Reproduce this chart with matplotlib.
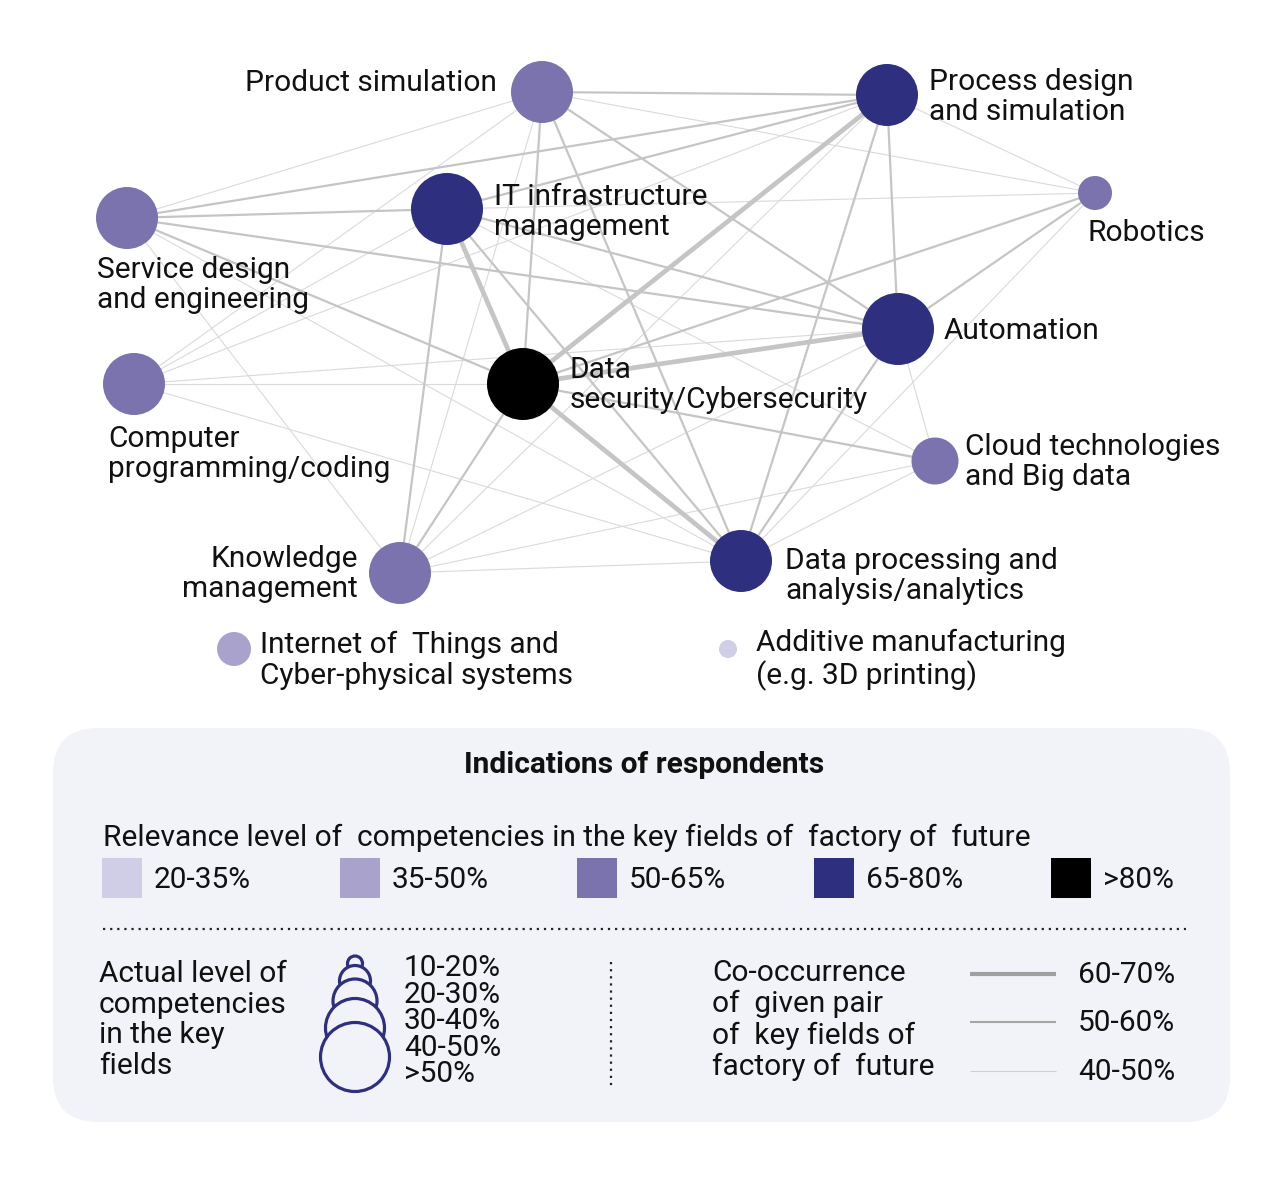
import matplotlib
matplotlib.use("Agg")
import matplotlib.pyplot as plt
from matplotlib.patches import Circle, FancyBboxPatch, Rectangle

plt.rcParams['font.family'] = ['Roboto', 'DejaVu Sans']

# ---------------- data ----------------
node_ids = ["PS", "PD", "RB", "SD", "IT", "AU", "CP", "DS", "CL", "KM", "DP", "IOT", "AM"]
node_labels = {
    "PS": "Product simulation",
    "PD": "Process design\nand simulation",
    "RB": "Robotics",
    "SD": "Service design\nand engineering",
    "IT": "IT infrastructure\nmanagement",
    "AU": "Automation",
    "CP": "Computer\nprogramming/coding",
    "DS": "Data\nsecurity/Cybersecurity",
    "CL": "Cloud technologies\nand Big data",
    "KM": "Knowledge\nmanagement",
    "DP": "Data processing and\nanalysis/analytics",
    "IOT": "Internet of  Things and\nCyber-physical systems",
    "AM": "Additive manufacturing\n(e.g. 3D printing)",
}
# relevance level category of each node
relevance = {"PS": "50-65%", "PD": "65-80%", "RB": "50-65%", "SD": "50-65%",
             "IT": "65-80%", "AU": "65-80%", "CP": "50-65%", "DS": ">80%",
             "CL": "50-65%", "KM": "50-65%", "DP": "65-80%", "IOT": "35-50%",
             "AM": "20-35%"}
# actual level category of each node
actual = {"PS": "40-50%", "PD": "40-50%", "RB": "20-30%", "SD": "40-50%",
          "IT": ">50%", "AU": ">50%", "CP": "40-50%", "DS": ">50%",
          "CL": "30-40%", "KM": "40-50%", "DP": "40-50%", "IOT": "20-30%",
          "AM": "10-20%"}

relevance_levels = ["20-35%", "35-50%", "50-65%", "65-80%", ">80%"]
actual_levels = ["10-20%", "20-30%", "30-40%", "40-50%", ">50%"]
cooc_levels = ["60-70%", "50-60%", "40-50%"]

# co-occurrence edges
edges_60_70 = [("DS", "PD"), ("DS", "AU"), ("DS", "DP"), ("DS", "IT")]
edges_50_60 = [("PS", "PD"), ("PS", "DS"), ("PS", "DP"), ("PS", "AU"),
               ("SD", "PD"), ("SD", "IT"), ("SD", "AU"), ("SD", "DS"),
               ("PD", "AU"), ("PD", "DP"), ("PD", "IT"), ("AU", "RB"),
               ("AU", "DP"), ("AU", "IT"), ("DS", "RB"), ("DS", "CL"),
               ("DS", "KM"), ("IT", "KM"), ("IT", "DP")]
edges_40_50 = [("PS", "RB"), ("PS", "SD"), ("PS", "CP"), ("PS", "KM"),
               ("PD", "RB"), ("IT", "RB"), ("DP", "RB"), ("CP", "DS"),
               ("CP", "AU"), ("CP", "DP"), ("CP", "IT"), ("CP", "PD"),
               ("SD", "KM"), ("SD", "DP"), ("KM", "DP"), ("KM", "AU"),
               ("KM", "CL"), ("KM", "PD"), ("CL", "AU"), ("CL", "DP"),
               ("CL", "IT")]

# ---------------- layout & styles ----------------
W, H = 1282, 1180
pos = {"PS": (542, 92), "PD": (887, 95), "RB": (1095, 193), "SD": (127, 218),
       "IT": (447, 209), "AU": (898, 329), "CP": (134, 384), "DS": (523, 384),
       "CL": (935, 461), "KM": (400, 573), "DP": (741, 561), "IOT": (234, 649),
       "AM": (728, 649)}
label_pos = {"PS": (497, 83, "right"), "PD": (929, 97, "left"), "RB": (1087, 233, "left"),
             "SD": (97, 285, "left"), "IT": (494, 212, "left"), "AU": (944, 331, "left"),
             "CP": (108, 454, "left"), "DS": (570, 385, "left"), "CL": (965, 462, "left"),
             "KM": (358, 574, "right"), "DP": (785, 576, "left"), "IOT": (260, 660, "left"),
             "AM": (756, 660, "left")}
rel_color = {"20-35%": "#d0cee6", "35-50%": "#a8a2cd", "50-65%": "#7a73ae",
             "65-80%": "#2e2f7f", ">80%": "#000000"}
act_radius = {"10-20%": 9, "20-30%": 17, "30-40%": 23.5, "40-50%": 31, ">50%": 36}
edge_style = {"60-70%": (3.4, "#c5c5c5"), "50-60%": (1.6, "#c5c5c5"), "40-50%": (0.8, "#dadada")}
legend_edge_style = {"60-70%": (3.0, "#a0a0a0"), "50-60%": (1.5, "#a6a6a6"), "40-50%": (0.8, "#cfcfcf")}

FS = 21.5
LS = 1.13

fig = plt.figure(figsize=(W / 100, H / 100), dpi=100)
ax = fig.add_axes([0, 0, 1, 1])
ax.set_xlim(0, W)
ax.set_ylim(H, 0)
ax.axis("off")

# edges
for level, elist in zip(cooc_levels, [edges_60_70, edges_50_60, edges_40_50]):
    lw, col = edge_style[level]
    z = {"60-70%": 3, "50-60%": 2, "40-50%": 1}[level]
    for a, b in elist:
        (x1, y1), (x2, y2) = pos[a], pos[b]
        ax.plot([x1, x2], [y1, y2], color=col, lw=lw, solid_capstyle="butt", zorder=z)

# nodes
for n in node_ids:
    x, y = pos[n]
    ax.add_patch(Circle((x, y), act_radius[actual[n]], facecolor=rel_color[relevance[n]],
                        edgecolor="none", zorder=5))
    lx, ly, ha = label_pos[n]
    ax.text(lx, ly, node_labels[n], ha=ha, va="center", fontsize=FS, color="#111111",
            linespacing=LS, zorder=6, multialignment=ha)

# ---------------- legend box ----------------
bg = "#f2f3f9"
ax.add_patch(FancyBboxPatch((53 + 45, 728 + 45), 1177 - 90, 394 - 90,
                            boxstyle="round,pad=45", facecolor=bg, edgecolor="none", zorder=0))
ax.text(644, 765, "Indications of respondents", ha="center", va="center",
        fontsize=FS, fontweight="bold", color="#111111")
ax.text(103, 838, "Relevance level of  competencies in the key fields of  factory of  future",
        ha="left", va="center", fontsize=FS, color="#111111")
sq_x = [102, 340, 577, 814, 1051]
for x, lev in zip(sq_x, relevance_levels):
    ax.add_patch(Rectangle((x, 858), 40, 40, facecolor=rel_color[lev], edgecolor="none", zorder=2))
    ax.text(x + 52, 880, lev, ha="left", va="center", fontsize=FS, color="#111111")

ax.plot([103, 1186], [929, 929], linestyle=(0, (1, 2.2)), color="#222222", lw=1.6)
ax.plot([611, 611], [962, 1088], linestyle=(0, (1, 2.2)), color="#222222", lw=1.6)

ax.text(99, 1020, "Actual level of\ncompetencies\nin the key\nfields", ha="left", va="center",
        fontsize=FS, color="#111111", linespacing=LS)
# nested circles
circ_cy = [963.5, 981, 1001, 1028, 1057]
lab_y = [968, 995, 1021, 1048, 1074]
for i, lev in enumerate(actual_levels):
    r = act_radius[lev]
    ax.add_patch(Circle((355, circ_cy[i]), r - 1.5, facecolor=bg, edgecolor="#2e2f7f",
                        lw=2.3, zorder=3 + i))
    ax.text(404, lab_y[i], lev, ha="left", va="center", fontsize=FS, color="#111111", zorder=10)

ax.text(712, 1020, "Co-occurrence\nof  given pair\nof  key fields of\nfactory of  future",
        ha="left", va="center", fontsize=FS, color="#111111", linespacing=LS)
line_y = [974, 1022, 1071]
for y, lev in zip(line_y, cooc_levels):
    lw, col = legend_edge_style[lev]
    ax.plot([970, 1056], [y, y], color=col, lw=lw, solid_capstyle="butt")
    ax.text(1078, y + 1, lev, ha="left", va="center", fontsize=FS, color="#111111")

fig.savefig("out.png", dpi=100, facecolor="white")
